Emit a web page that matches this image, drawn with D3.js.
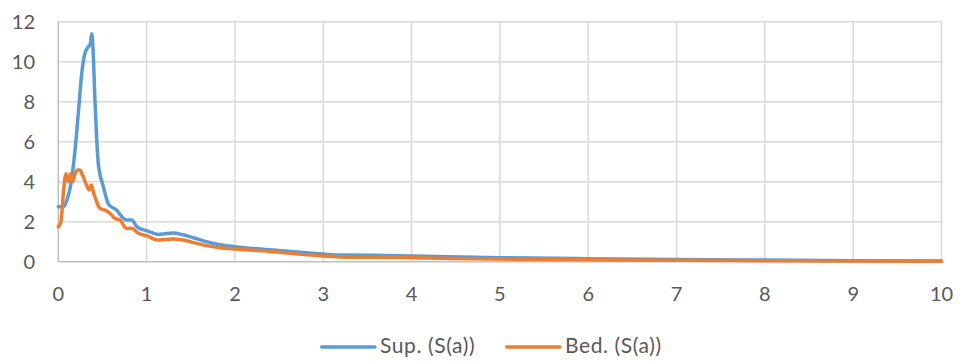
<!DOCTYPE html>
<html><head><meta charset="utf-8">
<script src="https://cdn.jsdelivr.net/npm/d3@7"></script>
<style>body{margin:0;background:#fff}svg{display:block}text{font-family:Lato,"Open Sans",sans-serif;fill:#595959}</style>
</head><body><svg id="c" width="965" height="363"></svg>
<script>
const xTicks = [0,1,2,3,4,5,6,7,8,9,10];
const yTicks = [0,2,4,6,8,10,12];
const supPeriod = [0,0.06,0.095,0.15,0.19,0.23,0.265,0.30,0.34,0.36,0.378,0.39,0.415,0.453,0.51,0.566,0.6,0.66,0.72,0.77,0.83,0.89,0.94,1.0,1.08,1.13,1.21,1.3,1.41,1.53,1.68,1.83,2.0,2.43,3.0,3.2,3.57,4.0,5.0,6,7,8,9,10];
const supValues = [2.75,2.75,3.05,4.1,5.6,7.6,9.4,10.4,10.75,10.85,11.4,10.9,8.1,4.9,3.75,2.9,2.75,2.58,2.25,2.08,2.08,1.75,1.63,1.55,1.42,1.36,1.4,1.43,1.35,1.2,1.0,0.85,0.75,0.58,0.38,0.33,0.32,0.28,0.2,0.15,0.11,0.08,0.05,0.03];
const bedPeriod = [0,0.03,0.057,0.087,0.113,0.14,0.163,0.19,0.215,0.245,0.275,0.32,0.35,0.376,0.396,0.434,0.47,0.53,0.585,0.64,0.70,0.77,0.83,0.906,1.0,1.13,1.3,1.41,1.6,1.83,2.0,2.43,3.0,3.2,3.57,4.0,5,6,7,8,9,10];
const bedValues = [1.75,2.0,3.4,4.4,4.0,4.4,4.0,4.4,4.58,4.58,4.33,3.83,3.58,3.83,3.5,3.0,2.67,2.58,2.42,2.17,2.08,1.67,1.67,1.42,1.3,1.08,1.13,1.08,0.88,0.7,0.63,0.5,0.28,0.24,0.22,0.2,0.13,0.1,0.07,0.05,0.03,0.02];
const seriesNames = ["Sup. (S(a))","Bed. (S(a))"];
const colors = ["#5B9BD5","#ED7D31"];

const svg = d3.select("#c");
const x = d3.scaleLinear().domain([0,10]).range([58.3,941.5]);
const y = d3.scaleLinear().domain([0,12]).range([261.7,21.7]);

// grid
svg.append("g").selectAll("line").data(yTicks.filter(d=>d>0)).join("line")
  .attr("x1",x(0)).attr("x2",x(10)).attr("y1",d=>y(d)).attr("y2",d=>y(d))
  .attr("stroke","#d9d9d9").attr("stroke-width",1.5);
svg.append("g").selectAll("line").data(xTicks.filter(d=>d>0)).join("line")
  .attr("x1",d=>x(d)).attr("x2",d=>x(d)).attr("y1",y(0)).attr("y2",y(12))
  .attr("stroke","#d9d9d9").attr("stroke-width",1.5);
// axes lines
svg.append("line").attr("x1",x(0)).attr("x2",x(10)).attr("y1",y(0)).attr("y2",y(0)).attr("stroke","#bfbfbf").attr("stroke-width",1.5);
svg.append("line").attr("x1",x(0)).attr("x2",x(0)).attr("y1",y(0)).attr("y2",y(12)).attr("stroke","#bfbfbf").attr("stroke-width",1.5);

// tick labels
svg.append("g").selectAll("text").data(yTicks).join("text")
  .attr("x",35).attr("y",d=>y(d)+7).attr("text-anchor","end").attr("font-size",20).text(d=>d);
svg.append("g").selectAll("text").data(xTicks).join("text")
  .attr("x",d=>x(d)).attr("y",301).attr("text-anchor","middle").attr("font-size",20).text(d=>d);

const line = d3.line().x(d=>x(d[0])).y(d=>y(d[1])).curve(d3.curveMonotoneX);
const sets = [d3.zip(supPeriod,supValues), d3.zip(bedPeriod,bedValues)];
sets.forEach((s,i)=>{
  svg.append("path").datum(s).attr("d",line).attr("fill","none")
    .attr("stroke",colors[i]).attr("stroke-width",3.5).attr("stroke-linejoin","round").attr("stroke-linecap","round");
});

// legend
const leg = [{x1:321.7,x2:375,tx:380},{x1:506.7,x2:560,tx:565}];
leg.forEach((l,i)=>{
  svg.append("line").attr("x1",l.x1).attr("x2",l.x2).attr("y1",347).attr("y2",347)
    .attr("stroke",colors[i]).attr("stroke-width",3.5).attr("stroke-linecap","round");
  svg.append("text").attr("x",l.tx).attr("y",353.3).attr("font-size",21).attr("letter-spacing",0.6).text(seriesNames[i]);
});
</script></body></html>
